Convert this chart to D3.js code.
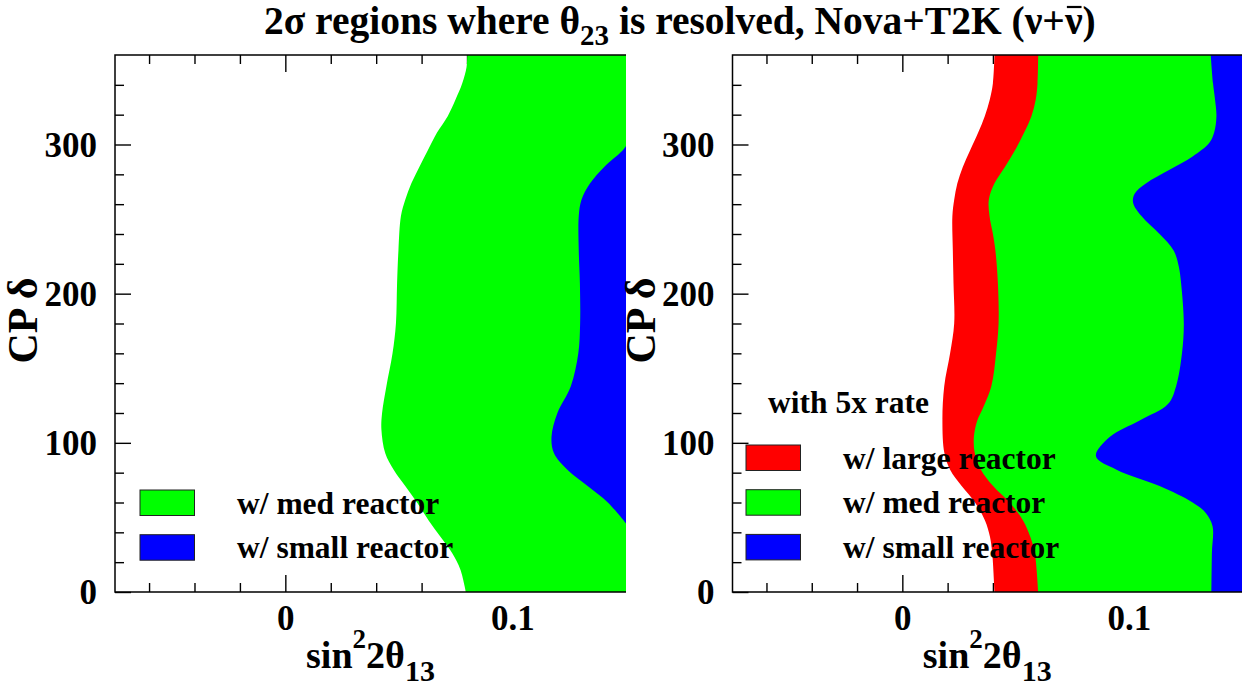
<!DOCTYPE html>
<html><head><meta charset="utf-8">
<script src="https://cdn.jsdelivr.net/npm/d3@7"></script>
<style>
html,body{margin:0;padding:0;background:#fff;}
svg{display:block;}
text{font-family:"Liberation Serif","Times New Roman",serif;font-weight:bold;fill:#000;}
</style></head><body>
<svg id="c" width="1247" height="687"></svg>
<script>
// ---------- data ----------
const xDomain = [-0.075, 0.15];
const yDomain = [0, 360];
const xMajorTicks = [0, 0.1];
const xMinorTicks = [-0.06, -0.04, -0.02, 0.02, 0.04, 0.06, 0.08, 0.12, 0.14];
const yMajorTicks = [0, 100, 200, 300];
const yMinorTicks = [20, 40, 60, 80, 120, 140, 160, 180, 220, 240, 260, 280, 320, 340];

// left panel: boundaries (CP delta, sin^2 2theta13)
const leftMedDelta = [0, 15, 26, 37, 48, 60, 71, 82, 93, 109, 120, 138, 160, 180, 207, 229, 252, 263, 274, 285, 296, 308, 319, 330, 341, 352, 360];
const leftMedS2    = [0.0795, 0.0771, 0.0735, 0.0683, 0.0631, 0.0580, 0.0528, 0.0477, 0.0440, 0.0423, 0.0426, 0.0445, 0.0472, 0.0487, 0.0492, 0.0498, 0.0509, 0.0528, 0.0555, 0.0590, 0.0627, 0.0668, 0.0715, 0.0749, 0.0779, 0.0798, 0.0801];
const leftSmallDelta = [46, 60, 71, 82, 93, 104, 120, 138, 160, 180, 207, 229, 252, 263, 274, 285, 296, 299];
const leftSmallS2    = [0.15, 0.1420, 0.1331, 0.1242, 0.1183, 0.1172, 0.1198, 0.1257, 0.1290, 0.1298, 0.1297, 0.1292, 0.1292, 0.1304, 0.1342, 0.1404, 0.1485, 0.15];

// right panel (5x rate)
const rightLargeDelta = [0, 26, 37, 48, 60, 71, 82, 93, 115, 138, 160, 180, 207, 229, 252, 263, 274, 285, 296, 308, 319, 330, 341, 360];
const rightLargeS2    = [0.0407, 0.0397, 0.0387, 0.0365, 0.0321, 0.0262, 0.0211, 0.0186, 0.0177, 0.0185, 0.0211, 0.0229, 0.0226, 0.0223, 0.0221, 0.0229, 0.0243, 0.0267, 0.0299, 0.0335, 0.0364, 0.0386, 0.0400, 0.0407];
const rightMedDelta = [0, 26, 37, 48, 60, 71, 82, 93, 104, 115, 122, 138, 160, 180, 207, 229, 240, 252, 263, 274, 285, 296, 308, 319, 330, 341, 360];
const rightMedS2    = [0.0600, 0.0585, 0.0565, 0.0533, 0.0474, 0.0401, 0.0347, 0.0320, 0.0316, 0.0331, 0.0352, 0.0393, 0.0414, 0.0425, 0.0422, 0.0411, 0.0400, 0.0385, 0.0382, 0.0407, 0.0453, 0.0497, 0.0538, 0.0570, 0.0589, 0.0597, 0.0600];
const rightSmallDelta = [0, 26, 44, 53, 60, 71, 82, 91, 104, 115, 126, 138, 160, 180, 207, 218, 229, 240, 252, 261, 267, 274, 283, 292, 301, 308, 319, 330, 341, 360];
const rightSmallS2    = [0.1365, 0.1367, 0.1370, 0.1340, 0.1282, 0.1136, 0.0946, 0.0855, 0.0917, 0.1048, 0.1173, 0.1209, 0.1235, 0.1243, 0.1231, 0.1221, 0.1198, 0.1136, 0.1056, 0.1019, 0.1026, 0.1077, 0.1180, 0.1282, 0.1355, 0.1377, 0.1387, 0.1381, 0.1372, 0.1362];

const leftLegend  = ["w/ med reactor", "w/ small reactor"];
const rightLegend = ["w/ large reactor", "w/ med reactor", "w/ small reactor"];
const legendHeader = "with 5x rate";
const colors = {large: "#ff0000", med: "#00ff00", small: "#0000ff"};

// ---------- layout ----------
const svg = d3.select("#c");
const yTop = 55, yBottom = 592;
const panels = [
  {x0: 115, x1: 626, id: "L",
   regions: [{d: leftMedDelta, s: leftMedS2, c: colors.med}, {d: leftSmallDelta, s: leftSmallS2, c: colors.small}],
   legend: {header: null, items: [[leftLegend[0], colors.med], [leftLegend[1], colors.small]], boxX: 140, textX: 237, y0: 490}},
  {x0: 732.5, x1: 1242, id: "R",
   regions: [{d: rightLargeDelta, s: rightLargeS2, c: colors.large}, {d: rightMedDelta, s: rightMedS2, c: colors.med}, {d: rightSmallDelta, s: rightSmallS2, c: colors.small}],
   legend: {header: legendHeader, items: [[rightLegend[0], colors.large], [rightLegend[1], colors.med], [rightLegend[2], colors.small]], boxX: 746, textX: 843, y0: 445}}
];

const y = d3.scaleLinear().domain(yDomain).range([yBottom, yTop]);

panels.forEach(p => {
  const x = d3.scaleLinear().domain(xDomain).range([p.x0, p.x1]);
  const g = svg.append("g");

  svg.append("clipPath").attr("id", "clip" + p.id).append("rect")
    .attr("x", p.x0).attr("y", yTop).attr("width", p.x1 - p.x0).attr("height", yBottom - yTop);

  const axes = g.append("g").attr("class", "axes");
  const styleAxis = sel => { sel.select(".domain").remove(); sel.selectAll("line").attr("stroke", "#000").attr("stroke-width", 1.4); };
  axes.append("g").attr("transform", `translate(0,${yBottom})`)
    .call(d3.axisBottom(x).tickValues(xMajorTicks).tickSize(-17).tickPadding(13).tickFormat(d => d === 0 ? "0" : d3.format(".1f")(d)))
    .call(styleAxis)
    .call(s => s.selectAll("text").attr("font-size", 35));
  axes.append("g").attr("transform", `translate(0,${yBottom})`)
    .call(d3.axisBottom(x).tickValues(xMinorTicks).tickSize(-9).tickFormat(""))
    .call(styleAxis);
  axes.append("g").attr("transform", `translate(0,${yTop})`)
    .call(d3.axisTop(x).tickValues(xMajorTicks).tickSize(-17).tickFormat(""))
    .call(styleAxis);
  axes.append("g").attr("transform", `translate(0,${yTop})`)
    .call(d3.axisTop(x).tickValues(xMinorTicks).tickSize(-9).tickFormat(""))
    .call(styleAxis);
  axes.append("g").attr("transform", `translate(${p.x0},0)`)
    .call(d3.axisLeft(y).tickValues(yMajorTicks).tickSize(-16).tickPadding(18).tickFormat(d3.format("d")))
    .call(styleAxis)
    .call(s => s.selectAll("text").attr("font-size", 35).attr("dy", "0.34em"));
  axes.append("g").attr("transform", `translate(${p.x0},0)`)
    .call(d3.axisLeft(y).tickValues(yMinorTicks).tickSize(-9).tickFormat(""))
    .call(styleAxis);
  axes.selectAll("g").attr("font-family", null);
  axes.selectAll("text").attr("fill", "#000");

  const area = d3.area()
    .y(d => y(d[0]))
    .x0(d => x(d[1]))
    .x1(() => x(xDomain[1]))
    .curve(d3.curveCatmullRom.alpha(0.5));
  const fills = g.append("g").attr("clip-path", `url(#clip${p.id})`);
  p.regions.forEach(r => {
    const pts = r.d.map((d, i) => [d, r.s[i]]);
    fills.append("path").attr("d", area(pts)).attr("fill", r.c).attr("stroke", "none");
  });

  g.append("path")
    .attr("d", `M${p.x1},${yTop}H${p.x0}V${yBottom}H${p.x1}`)
    .attr("fill", "none").attr("stroke", "#000").attr("stroke-width", 1.5);

  const xt = g.append("text").attr("x", (p.x0 + p.x1) / 2).attr("y", 668).attr("text-anchor", "middle").attr("font-size", 38);
  xt.append("tspan").text("sin");
  xt.append("tspan").attr("font-size", 27).attr("dy", -20).text("2");
  xt.append("tspan").attr("dy", 20).text("2θ");
  xt.append("tspan").attr("font-size", 30).attr("dy", 13).text("13");

  g.append("text").attr("transform", `translate(${p.x0 - 78},${(yTop + yBottom) / 2 - 3}) rotate(-90)`)
    .attr("text-anchor", "middle").attr("font-size", 42).text("CP δ");

  const L = p.legend;
  if (L.header) {
    g.append("text").attr("x", 768).attr("y", 413).attr("font-size", 31.5).text(L.header);
  }
  L.items.forEach((it, i) => {
    const yy = L.y0 + i * 44.7;
    g.append("rect").attr("x", L.boxX).attr("y", yy).attr("width", 54.5).attr("height", 25.5)
      .attr("fill", it[1]).attr("stroke", "#222").attr("stroke-width", 1);
    g.append("text").attr("x", L.textX).attr("y", yy + 23.5).attr("font-size", 31.5).text(it[0]);
  });
});

const title = svg.append("text").attr("x", 264).attr("y", 34).attr("font-size", 39.5);
title.append("tspan").text("2σ regions where θ");
title.append("tspan").attr("font-size", 29).attr("dy", 11).text("23");
title.append("tspan").attr("dy", -11).text(" is resolved, Nova+T2K (ν+");
title.append("tspan").text("ν");
title.append("tspan").text(")");
const tnode = title.node();
const full = tnode.textContent;
const idx = full.lastIndexOf("ν");
const ext = tnode.getExtentOfChar(idx);
svg.append("line").attr("x1", ext.x + 2).attr("x2", ext.x + ext.width - 1)
  .attr("y1", ext.y + 8).attr("y2", ext.y + 8).attr("stroke", "#000").attr("stroke-width", 2.2);
</script>
</body></html>
